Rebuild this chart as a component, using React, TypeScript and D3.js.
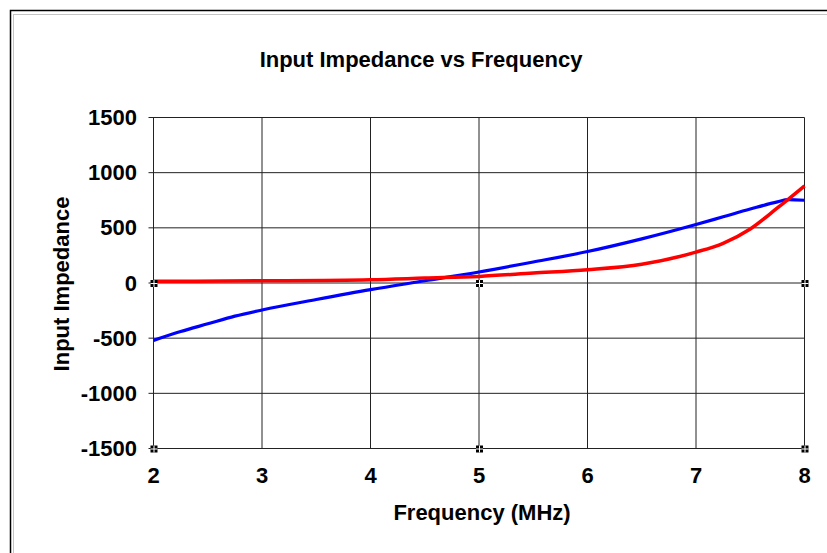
import React from "react";
import * as d3 from "d3";

const freqBlue = [2, 2.25, 2.5, 2.75, 3, 3.5, 4, 4.5, 5, 5.5, 6, 6.5, 7, 7.25, 7.5, 7.75, 7.85, 8];
const blueVals = [-520, -440, -370, -300, -245, -150, -60, 20, 100, 190, 285, 400, 530, 600, 670, 735, 755, 750];
const freqRed = [2, 3, 4, 4.5, 5, 5.5, 6, 6.5, 7, 7.25, 7.5, 7.75, 8];
const redVals = [15, 20, 30, 45, 60, 90, 120, 170, 280, 360, 490, 680, 880];
const xTicks = [2, 3, 4, 5, 6, 7, 8];
const yTicks = [1500, 1000, 500, 0, -500, -1000, -1500];

export default function App() {
  const W = 827, H = 553;
  const x = d3.scaleLinear().domain([2, 8]).range([153.5, 804.5]);
  const y = d3.scaleLinear().domain([-1500, 1500]).range([448.5, 117.5]);
  const lineB = d3.line<number>().x((_, i) => x(freqBlue[i])).y((d) => y(d)).curve(d3.curveMonotoneX);
  const lineR = d3.line<number>().x((_, i) => x(freqRed[i])).y((d) => y(d)).curve(d3.curveMonotoneX);
  const font = "'Liberation Sans', Arial, sans-serif";
  const fs = 22;
  const handles: [number, number][] = [[2, 0], [5, 0], [8, 0], [2, -1500], [5, -1500], [8, -1500]];
  return (
    <svg width={W} height={H} style={{ position: "absolute", left: 0, top: 0 }}>
      <rect x={0} y={0} width={W} height={H} fill="#fff" />
      <rect x={10.5} y={10.5} width={W + 20} height={H + 20} fill="none" stroke="#000" strokeWidth={1.5} />
      <rect x={13.5} y={14.5} width={W + 20} height={H + 20} fill="none" stroke="#888" strokeWidth={1} strokeDasharray="1,1" />
      <text x={421} y={67} textAnchor="middle" fontFamily={font} fontSize={fs} fontWeight="bold">Input Impedance vs Frequency</text>
      {xTicks.map((t) => (
        <line key={"vx" + t} x1={x(t)} x2={x(t)} y1={y(1500)} y2={y(-1500)} stroke="#222" strokeWidth={1} />
      ))}
      {yTicks.map((t) => (
        <line key={"hy" + t} x1={x(2) - 5} x2={x(8)} y1={y(t)} y2={y(t)} stroke="#222" strokeWidth={1} />
      ))}
      {yTicks.map((t) => (
        <text key={"ly" + t} x={137} y={y(t) + 7.5} textAnchor="end" fontFamily={font} fontSize={fs} fontWeight="bold">{t}</text>
      ))}
      {xTicks.map((t) => (
        <text key={"lx" + t} x={x(t)} y={483} textAnchor="middle" fontFamily={font} fontSize={fs} fontWeight="bold">{t}</text>
      ))}
      <text x={482} y={520} textAnchor="middle" fontFamily={font} fontSize={fs} fontWeight="bold">Frequency (MHz)</text>
      <text transform={`translate(69,284) rotate(-90)`} textAnchor="middle" fontFamily={font} fontSize={fs} fontWeight="bold">Input Impedance</text>
      <path d={lineB(blueVals) || ""} fill="none" stroke="#0000ff" strokeWidth={3.2} />
      <path d={lineR(redVals) || ""} fill="none" stroke="#ff0000" strokeWidth={3.5} />
      {handles.map(([a, b], i) => (
        <g key={"h" + i}>
          <rect x={x(a) - 3} y={y(b) - 3} width={7} height={7} fill="#000" />
          <line x1={x(a) + 0.5} x2={x(a) + 0.5} y1={y(b) - 3} y2={y(b) + 4} stroke="#fff" strokeWidth={1} />
          <line x1={x(a) - 3} x2={x(a) + 4} y1={y(b) + 0.5} y2={y(b) + 0.5} stroke="#fff" strokeWidth={1} />
        </g>
      ))}
    </svg>
  );
}
